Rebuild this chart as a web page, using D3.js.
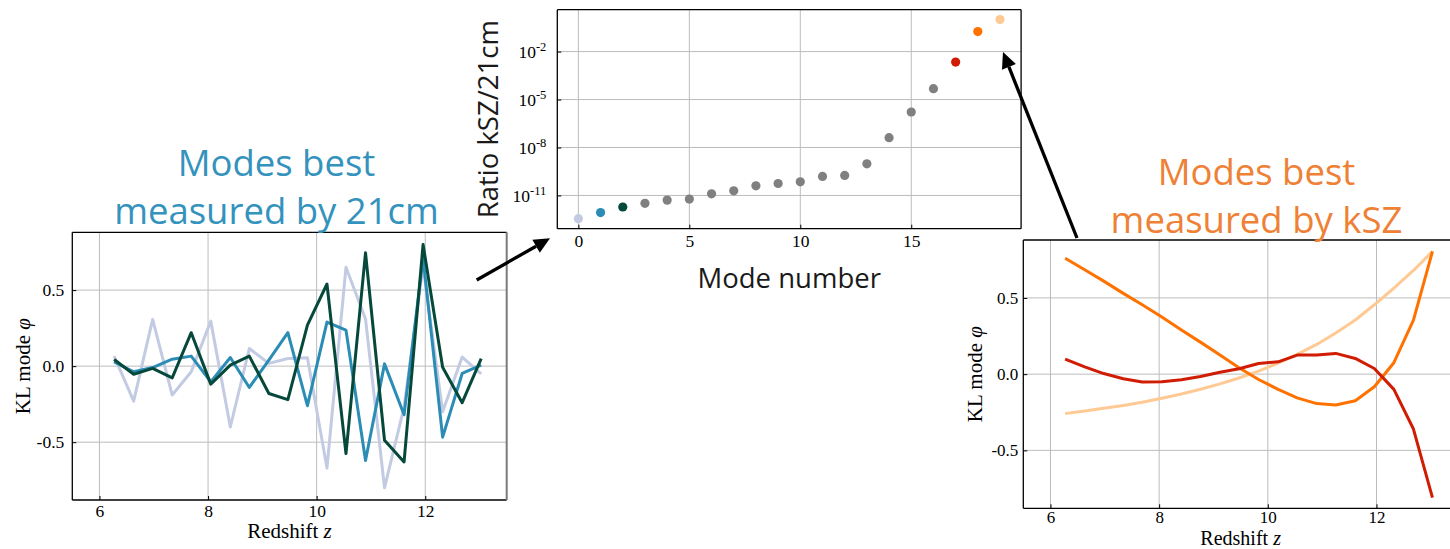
<!DOCTYPE html>
<html><head><meta charset="utf-8">
<script src="https://cdn.jsdelivr.net/npm/d3@7"></script>
<style>body{margin:0;background:#fff}svg{display:block}</style>
</head><body>
<script>
// ---- data ----
const redshift = [6.27, 6.63, 6.98, 7.34, 7.69, 8.05, 8.41, 8.76, 9.12, 9.47,
                  9.83, 10.19, 10.54, 10.90, 11.25, 11.61, 11.96, 12.32, 12.68, 13.03];

// KL modes best measured by 21cm
const mode0 = [0.066, -0.23, 0.307, -0.19, -0.037, 0.296, -0.40, 0.116, 0.018, 0.05,
               0.055, -0.67, 0.65, 0.31, -0.80, -0.27, 0.66, -0.30, 0.06, -0.05];
const mode1 = [0.028, -0.037, -0.009, 0.046, 0.066, -0.103, 0.057, -0.14, 0.039, 0.22,
               -0.26, 0.29, 0.237, -0.62, 0.015, -0.32, 0.71, -0.467, -0.048, 0.007];
const mode2 = [0.044, -0.053, -0.015, -0.077, 0.22, -0.118, 0.007, 0.066, -0.18, -0.22,
               0.27, 0.54, -0.575, 0.745, -0.487, -0.63, 0.80, -0.007, -0.24, 0.05];

// KL modes best measured by kSZ
const mode17 = [0.098, 0.048, 0.004, -0.03, -0.052, -0.05, -0.037, -0.016, 0.012, 0.035,
                0.07, 0.081, 0.125, 0.125, 0.136, 0.103, 0.037, -0.10, -0.36, -0.81];
const mode18 = [0.76, 0.685, 0.61, 0.53, 0.455, 0.375, 0.29, 0.21, 0.125, 0.042,
                -0.035, -0.10, -0.156, -0.193, -0.202, -0.175, -0.083, 0.075, 0.355, 0.805];
const mode19 = [-0.259, -0.242, -0.224, -0.205, -0.184, -0.158, -0.13, -0.099, -0.064, -0.025,
                0.02, 0.072, 0.13, 0.195, 0.27, 0.355, 0.455, 0.565, 0.68, 0.805];

// signal ratio per mode
const modeNumber = [0, 1, 2, 3, 4, 5, 6, 7, 8, 9, 10, 11, 12, 13, 14, 15, 16, 17, 18, 19];
const ratio = [3.5e-13, 8.5e-13, 1.9e-12, 3.2e-12, 5.1e-12, 5.9e-12, 1.26e-11, 1.95e-11, 4.0e-11, 5.6e-11,
               7.1e-11, 1.55e-10, 1.8e-10, 9.5e-10, 4.1e-8, 1.66e-6, 4.8e-5, 2.2e-3, 0.178, 1.0];

// ticks
const zTicks = [6, 8, 10, 12];
const phiTicks = [-0.5, 0, 0.5];
const phiTickLabels = ["-0.5", "0.0", "0.5"];
const modeTicks = [0, 5, 10, 15];
const ratioTicks = [1e-11, 1e-8, 1e-5, 1e-2];
const ratioTickExponents = ["-11", "-8", "-5", "-2"];

// ---- style ----
const colors = {
  0: "#c3cbe3", 1: "#2b8cb5", 2: "#06493b",
  17: "#d01c02", 18: "#ff7200", 19: "#ffc994", other: "#808080"
};
const SERIF = "'Liberation Serif','Times New Roman',serif";
const SANS = "'Open Sans',sans-serif";
const GRID = "#bcbcbc";

const W = 1450, H = 549;
const svg = d3.select("body").append("svg").attr("width", W).attr("height", H)
  .style("background", "#fff");

function gridAndAxes(g, x, y, opts) {
  const w = opts.x1 - opts.x0, h = opts.y1 - opts.y0;
  const fs = opts.fontSize || 17.5;
  g.append("rect").attr("x", opts.x0).attr("y", opts.y0).attr("width", w).attr("height", h)
    .attr("fill", "#fff");
  // grid
  g.append("g").selectAll("line").data(opts.xTicks).join("line")
    .attr("x1", d => x(d)).attr("x2", d => x(d)).attr("y1", opts.y0).attr("y2", opts.y1)
    .attr("stroke", GRID).attr("stroke-width", 1);
  g.append("g").selectAll("line").data(opts.yTicks).join("line")
    .attr("y1", d => y(d)).attr("y2", d => y(d)).attr("x1", opts.x0).attr("x2", opts.x1)
    .attr("stroke", GRID).attr("stroke-width", 1);
  // axes (inward ticks)
  const ax = g.append("g").attr("transform", `translate(0,${opts.y1})`)
    .call(d3.axisBottom(x).tickValues(opts.xTicks).tickSizeInner(-4).tickSizeOuter(0)
      .tickPadding(opts.xPad).tickFormat(opts.xFormat || (d => d)));
  ax.select(".domain").remove();
  ax.selectAll("text").attr("font-family", SERIF).attr("font-size", fs).attr("fill", "#000");
  ax.selectAll("line").attr("stroke", "#000");
  const ay = g.append("g").attr("transform", `translate(${opts.x0},0)`)
    .call(d3.axisLeft(y).tickValues(opts.yTicks).tickSizeInner(-4).tickSizeOuter(0)
      .tickPadding(opts.yPad).tickFormat(opts.yFormat || (d => d)));
  ay.select(".domain").remove();
  ay.selectAll("text").attr("font-family", SERIF).attr("font-size", fs).attr("fill", "#000");
  ay.selectAll("line").attr("stroke", "#000");
  return { ax, ay };
}

function frame(g, opts, rightColor) {
  const s = g.append("g").attr("fill", "none");
  s.append("line").attr("x1", opts.x0).attr("x2", opts.x1).attr("y1", opts.y0).attr("y2", opts.y0)
    .attr("stroke", "#000").attr("stroke-width", 1.3);
  s.append("line").attr("x1", opts.x0).attr("x2", opts.x1).attr("y1", opts.y1).attr("y2", opts.y1)
    .attr("stroke", "#000").attr("stroke-width", 1.3);
  s.append("line").attr("x1", opts.x0).attr("x2", opts.x0).attr("y1", opts.y0).attr("y2", opts.y1)
    .attr("stroke", "#000").attr("stroke-width", 1.3);
  s.append("line").attr("x1", opts.x1).attr("x2", opts.x1).attr("y1", opts.y0).attr("y2", opts.y1)
    .attr("stroke", rightColor || "#000").attr("stroke-width", rightColor ? 2 : 1.3);
}

function klLabels(g, opts, xlabBaseline, ylabX, fs) {
  const cx = (opts.x0 + opts.x1) / 2, cy = (opts.y0 + opts.y1) / 2;
  const xl = g.append("text").attr("x", cx).attr("y", xlabBaseline).attr("text-anchor", "middle")
    .attr("font-family", SERIF).attr("font-size", fs).attr("fill", "#000");
  xl.append("tspan").text("Redshift ");
  xl.append("tspan").attr("font-style", "italic").text("z");
  const yl = g.append("text").attr("transform", `translate(${ylabX},${cy}) rotate(-90)`)
    .attr("text-anchor", "middle").attr("font-family", SERIF).attr("font-size", 21).attr("fill", "#000");
  yl.append("tspan").text("KL mode ");
  yl.append("tspan").attr("font-style", "italic").text("φ");
}

// ---- left panel: modes best measured by 21cm ----
{
  const P = { x0: 72.3, x1: 506.7, y0: 232.3, y1: 500 };
  const x = d3.scaleLinear().domain([5.5, 13.5]).range([P.x0, P.x1]);
  const y = d3.scaleLinear().domain([-0.88, 0.88]).range([P.y1, P.y0]);
  const g = svg.append("g");
  gridAndAxes(g, x, y, { ...P, xTicks: zTicks, yTicks: phiTicks, xPad: 5, yPad: 8,
    yFormat: d => phiTickLabels[phiTicks.indexOf(d)] });
  const line = d3.line().x((d, i) => x(redshift[i])).y(d => y(d));
  [[mode0, colors[0]], [mode1, colors[1]], [mode2, colors[2]]].forEach(([s, c]) => {
    g.append("path").datum(s).attr("d", line).attr("fill", "none").attr("stroke", c)
      .attr("stroke-width", 3).attr("stroke-linejoin", "round");
  });
  frame(g, P, "#7a7a7a");
  klLabels(g, P, 538.3, 30, 21);
}

// ---- right panel: modes best measured by kSZ ----
{
  const P = { x0: 1023.3, x1: 1458, y0: 240, y1: 508.3 };
  const x = d3.scaleLinear().domain([5.5, 13.5]).range([P.x0, P.x1]);
  const y = d3.scaleLinear().domain([-0.88, 0.88]).range([P.y1, P.y0]);
  const g = svg.append("g");
  gridAndAxes(g, x, y, { ...P, xTicks: zTicks, yTicks: phiTicks, xPad: 2.5, yPad: 5, fontSize: 17,
    yFormat: d => phiTickLabels[phiTicks.indexOf(d)] });
  const line = d3.line().x((d, i) => x(redshift[i])).y(d => y(d));
  [[mode19, colors[19]], [mode18, colors[18]], [mode17, colors[17]]].forEach(([s, c]) => {
    g.append("path").datum(s).attr("d", line).attr("fill", "none").attr("stroke", c)
      .attr("stroke-width", 3).attr("stroke-linejoin", "round");
  });
  frame(g, P);
  klLabels(g, P, 544.5, 981.7, 20);
}

// ---- middle panel: kSZ / 21cm signal ratio per mode ----
{
  const P = { x0: 557.3, x1: 1021.1, y0: 9.7, y1: 228.7 };
  const x = d3.scaleLinear().domain([-0.95, 19.95]).range([P.x0, P.x1]);
  const y = d3.scaleLog().domain([Math.pow(10, -13.08), Math.pow(10, 0.62)]).range([P.y1, P.y0]);
  const g = svg.append("g");
  const { ay } = gridAndAxes(g, x, y, { ...P, xTicks: modeTicks, yTicks: ratioTicks, xPad: 6, yPad: 11,
    yFormat: () => "" });
  ay.selectAll(".tick text").each(function (d) {
    const t = d3.select(this);
    t.text(null);
    t.append("tspan").text("10");
    t.append("tspan").attr("font-size", 12.5).attr("dy", "-0.55em")
      .text(ratioTickExponents[ratioTicks.indexOf(d)]);
  });
  g.append("g").selectAll("circle").data(modeNumber).join("circle")
    .attr("cx", d => x(d)).attr("cy", (d, i) => y(ratio[i])).attr("r", 4.6)
    .attr("fill", d => colors[d] || colors.other);
  frame(g, P);
  g.append("text").attr("x", (P.x0 + P.x1) / 2).attr("y", 288.3).attr("text-anchor", "middle")
    .attr("font-family", SANS).attr("font-size", 27.5).attr("fill", "#1a1a1a").text("Mode number");
  g.append("text").attr("transform", `translate(498,${(P.y0 + P.y1) / 2}) rotate(-90)`)
    .attr("text-anchor", "middle").attr("font-family", SANS).attr("font-size", 27.5)
    .attr("fill", "#1a1a1a").text("Ratio kSZ/21cm");
}

// ---- titles ----
function title(lines, cx, baselines, color) {
  lines.forEach((t, i) => svg.append("text").attr("x", cx).attr("y", baselines[i])
    .attr("text-anchor", "middle").attr("font-family", SANS).attr("font-size", 36.5)
    .attr("fill", color).text(t));
}
title(["Modes best", "measured by 21cm"], 276.5, [176, 224.3], "#3493bd");
title(["Modes best", "measured by kSZ"], 1256.5, [185, 233.3], "#ee8136");

// ---- arrows ----
function arrow(x1, y1, x2, y2) {
  const a = Math.atan2(y2 - y1, x2 - x1), L = 16, hw = 7.5;
  const bx = x2 - L * Math.cos(a), by = y2 - L * Math.sin(a);
  svg.append("line").attr("x1", x1).attr("y1", y1).attr("x2", bx).attr("y2", by)
    .attr("stroke", "#000").attr("stroke-width", 3.3);
  svg.append("path").attr("fill", "#000").attr("d",
    `M${x2},${y2}L${bx + hw * Math.sin(a)},${by - hw * Math.cos(a)}L${bx - hw * Math.sin(a)},${by + hw * Math.cos(a)}Z`);
}
arrow(476.7, 280, 550, 238.3);
arrow(1077, 238, 1003, 52);
</script>
</body></html>
